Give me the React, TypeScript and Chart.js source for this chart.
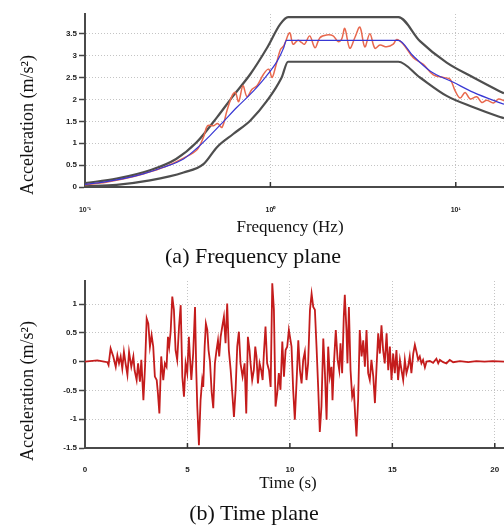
import React, { useEffect, useRef } from "react";
import { Chart, registerables } from "chart.js";
Chart.register(...registerables);

// ---------- (a) Frequency plane ----------
const freqTicks = [0.1, 1, 10];
const freqTickLabels = ["10⁻¹", "10⁰", "10¹"];
const accTicksTop = [0, 0.5, 1, 1.5, 2, 2.5, 3, 3.5];

const targetFreq = [0.1, 0.126, 0.161, 0.206, 0.265, 0.34, 0.4, 0.474, 0.56, 0.66, 0.78, 0.92, 1.09, 1.18, 1.22, 4.9, 5.9, 7.26, 9.7, 12.45, 16.6, 18.2];
const targetAcc = [0.06, 0.11, 0.19, 0.3, 0.45, 0.64, 0.88, 1.18, 1.5, 1.82, 2.12, 2.46, 2.88, 3.18, 3.35, 3.35, 2.99, 2.65, 2.39, 2.16, 1.95, 1.89];

const upperFreq = [0.1, 0.148, 0.224, 0.31, 0.4, 0.515, 0.63, 0.78, 0.96, 1.13, 1.245, 4.9, 6.41, 8.93, 12.45, 17.0, 18.2];
const upperAcc = [0.09, 0.19, 0.38, 0.64, 1.02, 1.59, 2.08, 2.58, 3.18, 3.72, 3.88, 3.88, 3.33, 2.84, 2.5, 2.2, 2.14];

const lowerFreq = [0.1, 0.148, 0.224, 0.34, 0.437, 0.515, 0.63, 0.78, 0.96, 1.15, 1.245, 4.9, 6.41, 8.93, 12.45, 17.0, 18.2];
const lowerAcc = [0.02, 0.05, 0.15, 0.33, 0.53, 0.91, 1.21, 1.52, 1.97, 2.5, 2.86, 2.86, 2.5, 2.08, 1.82, 1.61, 1.57];

const synthFreq = [
  0.1, 0.13, 0.16, 0.21, 0.27, 0.34, 0.402, 0.436, 0.458, 0.494,
  0.519, 0.548, 0.583, 0.621, 0.647, 0.674, 0.711, 0.748, 0.796, 0.847,
  0.92, 0.979, 1.021, 1.064, 1.133, 1.18, 1.27, 1.325, 1.41, 1.47,
  1.53, 1.63, 1.74, 1.85, 2.01, 2.18, 2.32, 2.42, 2.52, 2.68,
  2.86, 3.04, 3.23, 3.44, 3.66, 3.9, 4.24, 4.6, 4.8, 5.21,
  5.9, 6.68, 7.57, 8.57, 9.32, 9.91, 10.55, 11.23, 11.95, 12.98,
  13.81, 14.7, 15.97, 17.0, 18.2,
];
const synthAcc = [
  0.05, 0.11, 0.18, 0.31, 0.46, 0.66, 0.85, 1.14, 1.4, 1.4,
  1.45, 1.36, 1.74, 2.08, 2.16, 1.95, 2.31, 2.06, 2.23, 2.31,
  2.58, 2.69, 2.5, 2.73, 3.14, 3.22, 3.52, 3.26, 3.35, 3.3,
  3.26, 3.45, 3.18, 3.41, 3.47, 3.45, 3.32, 3.37, 3.62, 3.17,
  3.42, 3.65, 3.2, 3.5, 3.17, 3.24, 3.2, 3.26, 3.37, 3.26,
  2.95, 2.8, 2.56, 2.5, 2.46, 2.2, 2.03, 2.16, 2.01, 2.06,
  1.93, 1.98, 1.92, 2.01, 1.97,
];

// ---------- (b) Time plane ----------
const timeTicks = [0, 5, 10, 15, 20];
const accTicksBottom = [-1.5, -1, -0.5, 0, 0.5, 1];

const timeS = [
  0, 0.6, 0.93, 1.09, 1.15, 1.25, 1.38, 1.5, 1.58, 1.66,
  1.74, 1.82, 1.9, 1.98, 2.07, 2.15, 2.26, 2.36, 2.42, 2.52,
  2.59, 2.68, 2.75, 2.85, 2.93, 3.01, 3.09, 3.17, 3.25, 3.33,
  3.41, 3.5, 3.56, 3.63, 3.72, 3.82, 3.9, 3.98, 4.05, 4.11,
  4.18, 4.26, 4.34, 4.42, 4.5, 4.59, 4.67, 4.75, 4.83, 4.91,
  4.99, 5.07, 5.12, 5.19, 5.28, 5.37, 5.43, 5.48, 5.56, 5.64,
  5.72, 5.77, 5.84, 5.9, 5.97, 6.03, 6.1, 6.18, 6.26, 6.34,
  6.42, 6.49, 6.55, 6.62, 6.7, 6.78, 6.86, 6.94, 7.02, 7.11,
  7.2, 7.27, 7.35, 7.43, 7.51, 7.59, 7.69, 7.79, 7.87, 7.95,
  8.03, 8.08, 8.16, 8.24, 8.31, 8.37, 8.44, 8.52, 8.6, 8.67,
  8.73, 8.81, 8.89, 8.98, 9.06, 9.14, 9.22, 9.3, 9.38, 9.46,
  9.54, 9.63, 9.71, 9.79, 9.87, 9.95, 10.08, 10.16, 10.24, 10.33,
  10.41, 10.49, 10.57, 10.65, 10.73, 10.81, 10.89, 10.98, 11.06, 11.14,
  11.22, 11.3, 11.38, 11.46, 11.54, 11.63, 11.71, 11.79, 11.87, 11.95,
  12.03, 12.08, 12.15, 12.24, 12.33, 12.41, 12.47, 12.55, 12.63, 12.68,
  12.76, 12.81, 12.88, 12.96, 13.04, 13.12, 13.19, 13.25, 13.33, 13.41,
  13.5, 13.58, 13.66, 13.74, 13.82, 13.9, 13.98, 14.07, 14.15, 14.23,
  14.31, 14.39, 14.47, 14.55, 14.63, 14.72, 14.8, 14.88, 14.96, 15.04,
  15.12, 15.2, 15.28, 15.37, 15.45, 15.53, 15.61, 15.69, 15.77, 15.85,
  15.93, 16.02, 16.1, 16.18, 16.26, 16.34, 16.42, 16.5, 16.59, 16.67,
  16.83, 16.99, 17.15, 17.24, 17.32, 17.48, 17.64, 17.8, 17.97, 18.3,
  18.7, 19.1, 19.5, 19.9, 20.45,
];
const accel = [
  0, 0.02, 0, -0.01, -0.06, 0.23, 0.09, -0.09, 0.11, -0.03,
  0.09, -0.12, 0.17, -0.03, -0.23, 0.17, -0.09, 0.09, -0.15, -0.32,
  -0.03, -0.35, 0.03, -0.67, -0.09, 0.75, 0.66, 0.26, 0.46, 0.26,
  -0.26, -0.32, -0.55, -0.9, 0.09, -0.32, -0.03, -0.09, 0.43, 0.26,
  0.52, 1.13, 0.9, 0.2, 0.03, 0.61, 0.98, -0.26, -0.61, -0.03,
  -0.2, 0.43, 0.09, -0.32, 0.14, 0.95, -0.15, -0.78, -1.45, -0.67,
  -0.32, -0.44, 0.26, 0.66, 0.55, 0.2, 0, -0.52, -0.81, -0.03,
  0.2, 0.37, 0.09, 0.43, 0.61, 0.78, 0.32, 1.01, 0.2, -0.15,
  -0.61, -0.96, -0.49, 0.26, 0.52, -0.03, -0.26, -0.03, -0.9, 0.43,
  0.2, -0.03, -0.32, -0.15, 0.26, 0.09, -0.38, -0.03, -0.15, -0.32,
  0.14, 0.61, -0.03, -0.15, -0.44, 1.36, 0.9, -0.78, -0.55, -0.2,
  -0.49, 0.35, -0.26, 0.2, 0.26, 0.55, 0.26, -0.49, -1.01, -0.32,
  0.37, -0.15, -0.38, 0.03, 0.17, -0.32, -0.03, 0.9, 1.18, 0.95,
  0.9, 0.26, -0.44, -1.22, -0.78, 0.4, -0.2, -1.01, 0.26, -0.26,
  -0.09, -0.67, -0.03, 0.55, 0.03, -0.15, 0.32, -0.2, 0.78, 1.16,
  0.55, -0.03, 0.95, -0.15, -0.61, -0.49, -0.96, -1.3, -0.67, 0.55,
  0.09, 0.37, -0.09, 0.55, -0.2, -0.32, 0.03, -0.26, -0.72, -0.09,
  0.49, 0.14, 0.63, 0.2, -0.03, 0.49, -0.15, 0.26, -0.32, 0.14,
  -0.2, 0.2, -0.32, 0.03, -0.15, -0.32, 0.03, -0.2, -0.09, 0.09,
  -0.2, 0.14, 0.29, 0.17, 0.03, 0.09, -0.03, 0.03, -0.1, 0,
  0.01, -0.02, 0.05, -0.03, 0.03, -0.01, -0.03, 0.03, -0.01, 0.01,
  -0.01, 0.01, 0, 0.01, 0,
];

const pts = (xs: number[], ys: number[]) => xs.map((x, i) => ({ x, y: ys[i] }));

const tickFont = { family: "'Liberation Sans', Arial, sans-serif", size: 8, weight: "bold" as const };
const GRID = "#c4c4c4";
const AXIS = "#4a4a4a";

const innerTicks = {
  id: "innerTicks",
  afterDatasetsDraw(chart: any) {
    const xs = chart.scales.x;
    const a = chart.chartArea;
    const ctx = chart.ctx;
    ctx.save();
    ctx.strokeStyle = "#333";
    ctx.lineWidth = 1.5;
    xs.ticks.forEach((t: any) => {
      const px = xs.getPixelForValue(t.value);
      if (px <= a.left + 2 || px > a.right) return;
      ctx.beginPath();
      ctx.moveTo(px, a.bottom);
      ctx.lineTo(px, a.bottom - 5);
      ctx.stroke();
    });
    ctx.restore();
  },
};

function yScale(min: number, max: number, ticks: number[]) {
  return {
    type: "linear" as const,
    min,
    max,
    afterBuildTicks: (s: any) => {
      s.ticks = ticks.map((v) => ({ value: v }));
    },
    afterFit: (s: any) => {
      s.width = 85;
    },
    ticks: { font: tickFont, color: "#222", padding: 2, callback: (v: any) => String(v) },
    grid: {
      color: GRID,
      lineWidth: 1,
      drawTicks: true,
      tickLength: 6,
      tickColor: "#444",
      tickWidth: 1.5,
      tickBorderDash: [],
    },
    border: { display: true, color: AXIS, width: 2, dash: [1, 2] },
  };
}

function xGrid(labelGap: number) {
  return {
    color: GRID,
    lineWidth: 1,
    drawTicks: true,
    tickLength: labelGap,
    tickColor: "rgba(0,0,0,0)",
    tickBorderDash: [],
  };
}

function FreqChart() {
  const ref = useRef<HTMLCanvasElement>(null);
  useEffect(() => {
    const chart = new Chart(ref.current!, {
      type: "line",
      data: {
        datasets: [
          { data: pts(targetFreq, targetAcc), borderColor: "#3838d4", borderWidth: 1.2, cubicInterpolationMode: "monotone" },
          { data: pts(synthFreq, synthAcc), borderColor: "#e8684e", borderWidth: 1.5, tension: 0.35 },
          { data: pts(upperFreq, upperAcc), borderColor: "#4e4e4e", borderWidth: 2.2, cubicInterpolationMode: "monotone" },
          { data: pts(lowerFreq, lowerAcc), borderColor: "#4e4e4e", borderWidth: 2.2, cubicInterpolationMode: "monotone" },
        ],
      },
      options: {
        animation: false,
        responsive: false,
        maintainAspectRatio: false,
        layout: { padding: { top: 14, left: 0, right: 0, bottom: 0 } },
        elements: { point: { radius: 0 } },
        plugins: { legend: { display: false }, tooltip: { enabled: false } },
        scales: {
          x: {
            type: "logarithmic",
            min: 0.1,
            max: 18.2,
            afterBuildTicks: (s: any) => {
              s.ticks = freqTicks.map((v) => ({ value: v }));
            },
            afterFit: (s: any) => {
              s.height = 38;
            },
            ticks: {
              font: { ...tickFont, size: 7 },
              color: "#222",
              padding: 0,
              maxRotation: 0,
              autoSkip: false,
              callback: (v: any) => {
                const i = freqTicks.findIndex((f) => Math.abs(f - Number(v)) < 1e-9);
                return i >= 0 ? freqTickLabels[i] : "";
              },
            },
            grid: xGrid(19),
            border: { display: true, color: AXIS, width: 2, dash: [1, 2] },
          },
          y: yScale(0, 3.95, accTicksTop),
        },
      } as any,
      plugins: [innerTicks],
    });
    return () => chart.destroy();
  }, []);
  return <canvas ref={ref} width={504} height={225} style={{ position: "absolute", left: 0, top: 0, width: 504, height: 225 }} />;
}

function TimeChart() {
  const ref = useRef<HTMLCanvasElement>(null);
  useEffect(() => {
    const chart = new Chart(ref.current!, {
      type: "line",
      data: {
        datasets: [
          { data: pts(timeS, accel), borderColor: "#c41c1c", borderWidth: 1.8, tension: 0 },
        ],
      },
      options: {
        animation: false,
        responsive: false,
        maintainAspectRatio: false,
        layout: { padding: { top: 16, left: 0, right: 0, bottom: 0 } },
        elements: { point: { radius: 0 } },
        plugins: { legend: { display: false }, tooltip: { enabled: false } },
        scales: {
          x: {
            type: "linear",
            min: 0,
            max: 20.45,
            afterBuildTicks: (s: any) => {
              s.ticks = timeTicks.map((v) => ({ value: v }));
            },
            afterFit: (s: any) => {
              s.height = 77;
            },
            ticks: { font: tickFont, color: "#222", padding: 0, maxRotation: 0, autoSkip: false },
            grid: xGrid(17),
            border: { display: true, color: AXIS, width: 2, dash: [1, 2] },
          },
          y: yScale(-1.5, 1.4, accTicksBottom),
        },
      } as any,
      plugins: [innerTicks],
    });
    return () => chart.destroy();
  }, []);
  return <canvas ref={ref} width={504} height={260} style={{ position: "absolute", left: 0, top: 265, width: 504, height: 260 }} />;
}

const serif = "'Liberation Serif', 'Times New Roman', serif";

function Label(props: { text: string; x: number; y: number; size: number; rotate?: boolean }) {
  return (
    <div
      style={{
        position: "absolute",
        left: props.x,
        top: props.y,
        transform: `translate(-50%, -50%)${props.rotate ? " rotate(-90deg)" : ""}`,
        fontFamily: serif,
        fontSize: props.size,
        lineHeight: 1,
        whiteSpace: "nowrap",
        color: "#111",
      }}
    >
      {props.text}
    </div>
  );
}

export default function App() {
  return (
    <div style={{ position: "absolute", left: 0, top: 0, width: 504, height: 525, background: "#fff", overflow: "hidden" }}>
      <FreqChart />
      <TimeChart />
      <Label text="Acceleration (m/s²)" x={27} y={125} size={18} rotate />
      <Label text="Frequency (Hz)" x={290} y={226} size={17} />
      <Label text="(a) Frequency plane" x={253} y={256} size={22} />
      <Label text="Acceleration (m/s²)" x={27} y={391} size={18} rotate />
      <Label text="Time (s)" x={288} y={482} size={17} />
      <Label text="(b) Time plane" x={254} y={513} size={22} />
    </div>
  );
}
